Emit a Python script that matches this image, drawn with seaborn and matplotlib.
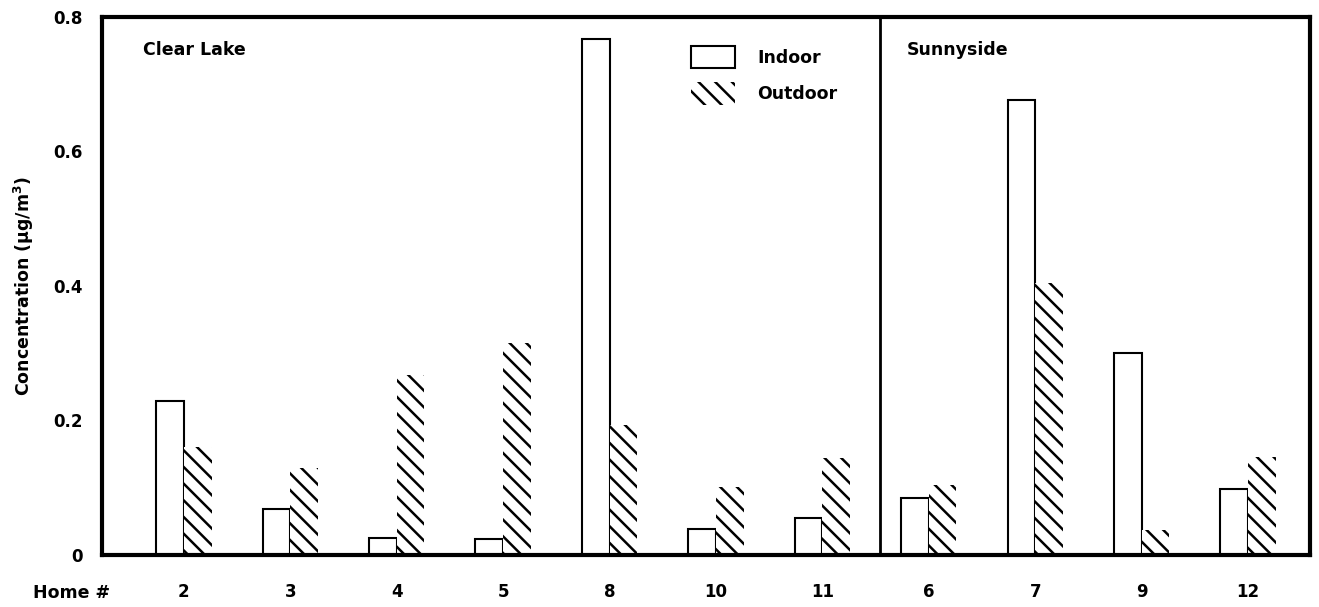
import pandas as pd
import matplotlib.pyplot as plt
import seaborn as sns

homes = ["2", "3", "4", "5", "8", "10", "11", "6", "7", "9", "12"]
indoor = [0.229, 0.068, 0.025, 0.024, 0.767, 0.039, 0.055, 0.085, 0.677, 0.300, 0.098]
outdoor = [0.160, 0.129, 0.268, 0.315, 0.193, 0.101, 0.144, 0.104, 0.405, 0.037, 0.146]

data = pd.DataFrame({
    "Home": homes * 2,
    "Concentration": indoor + outdoor,
    "Type": ["Indoor"] * len(homes) + ["Outdoor"] * len(homes),
})

sns.set_style("white")
plt.rcParams["font.family"] = ["DejaVu Sans"]
plt.rcParams["font.weight"] = "bold"
plt.rcParams["hatch.linewidth"] = 1.8
plt.rcParams["text.color"] = "black"
plt.rcParams["axes.labelcolor"] = "black"
plt.rcParams["xtick.color"] = "black"
plt.rcParams["ytick.color"] = "black"

fig = plt.figure(figsize=(13.19, 6.07), dpi=100)
ax = fig.add_axes([0.0773, 0.0857, 0.9157, 0.8863])

sns.barplot(data=data, x="Home", y="Concentration", hue="Type", order=homes,
            palette=["white", "white"], width=0.52, ax=ax, legend=False)

# indoor = plain outlined box, outdoor = hatched, no outline
for bar in ax.containers[0]:
    bar.set_edgecolor("black")
    bar.set_linewidth(1.5)
for bar in ax.containers[1]:
    bar.set_edgecolor("black")
    bar.set_hatch("\\\\")
    bar.set_linewidth(0)

ax.set_ylim(0, 0.8)
ax.set_xlim(-0.77, 10.58)
ax.set_yticks([0, 0.2, 0.4, 0.6, 0.8])
ax.set_yticklabels(["0", "0.2", "0.4", "0.6", "0.8"])
ax.tick_params(axis="y", direction="in", length=7, width=3, labelsize=12, pad=14)
ax.tick_params(axis="x", length=0, labelsize=12, pad=20)
for lab in ax.get_xticklabels() + ax.get_yticklabels():
    lab.set_fontweight("bold")
for s in ax.spines.values():
    s.set_linewidth(3)
    s.set_color("black")

ax.axvline(6.54, color="black", lw=2)

ax.set_xlabel("")
ax.set_ylabel("Concentration (\u03bcg/m$^3$)", fontsize=12.5, fontweight="bold", labelpad=12)

ax.text(0.034, 0.93, "Clear Lake", transform=ax.transAxes, fontsize=12.5,
        fontweight="bold")
ax.text(0.666, 0.93, "Sunnyside", transform=ax.transAxes, fontsize=12.5,
        fontweight="bold")
fig.text(0.025, 0.015, "Home #", fontsize=12.5, fontweight="bold")

handles = [ax.containers[0][0], ax.containers[1][0]]
leg = ax.legend(handles, ["Indoor", "Outdoor"], loc="upper left",
                bbox_to_anchor=(0.475, 0.975), frameon=False, fontsize=12.5,
                handlelength=2.5, handleheight=1.6, handletextpad=1.3,
                labelspacing=0.8)
for t in leg.get_texts():
    t.set_fontweight("bold")

plt.savefig("out.png", dpi=100)
